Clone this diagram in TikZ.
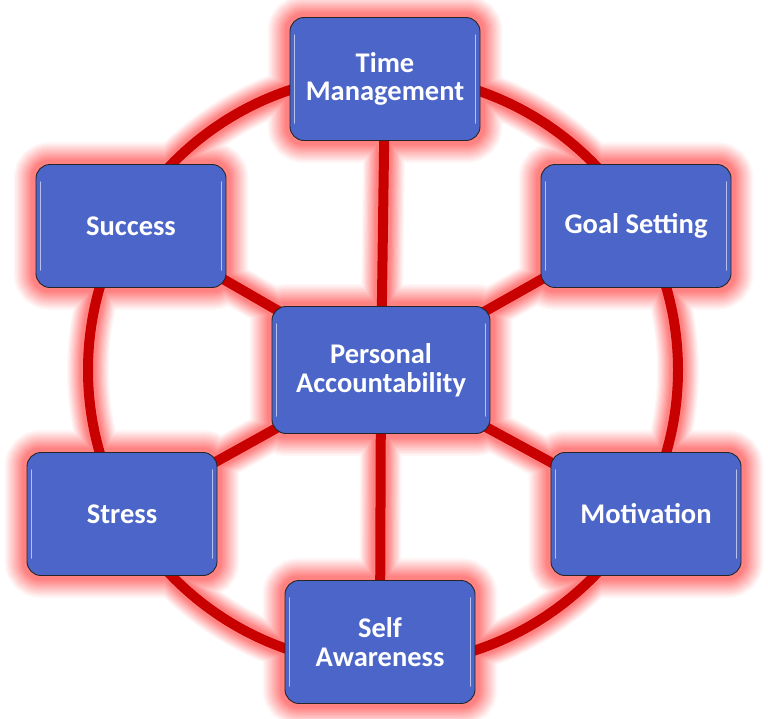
\documentclass[tikz,border=0pt]{standalone}
\usepackage{fontspec}
\setmainfont{Carlito}
\definecolor{boxblue}{RGB}{76,101,200}
\definecolor{ringred}{RGB}{200,0,0}
\pgfdeclarelayer{glow}
\pgfdeclarelayer{lines}
\pgfsetlayers{glow,lines,main}
\tikzset{
  box/.style={draw=black!85, line width=0.9pt, fill=boxblue, rounded corners=14pt,
    minimum width=190pt, minimum height=123pt, align=center, text=white,
    font=\fontsize{28.5}{28.5}\selectfont\bfseries, inner sep=0pt},
  ringline/.style={draw=ringred, line width=10pt},
  shine/.style={white, opacity=0.6, line width=1.6pt, line cap=round}
}
\begin{document}
\begin{tikzpicture}[x=1pt,y=-1pt]
\useasboundingbox (0,0) rectangle (768,718);
\node[box] (tm) at (385,79) {Time\\Management};
\node[box] (gs) at (636,226) {Goal Setting};
\node[box] (mo) at (646,514) {Motivation};
\node[box] (sa) at (380,642) {Self\\Awareness};
\node[box] (st) at (122,514) {Stress};
\node[box] (su) at (131,226) {Success};
\node[box, minimum width=218pt, minimum height=127pt] (pa) at (381,370) {Personal\\Accountability};
\coordinate (c) at (383,370);
% soft glow, built from many layers
\begin{pgfonlayer}{glow}
\foreach \i in {0,...,11}{
  \pgfmathsetmacro{\w}{42-2.4*\i}
  \pgfmathsetmacro{\bw}{44-3.2*\i}
  \pgfmathsetmacro{\p}{3+4.2*\i}
  \draw[draw=red!\p!white, line width=\w pt] (c) circle (295);
  \foreach \n in {tm,gs,mo,sa,st,su}{
    \draw[draw=red!\p!white, line width=\w pt] (pa.center) -- (\n.center);
  }
  \foreach \n in {tm,gs,mo,sa,st,su,pa}{
    \draw[draw=red!\p!white, line width=\bw pt, rounded corners=14pt] (\n.south west) rectangle (\n.north east);
  }
}
\end{pgfonlayer}
\begin{pgfonlayer}{lines}
\draw[ringline] (c) circle (295);
\foreach \n in {tm,gs,mo,sa,st,su}{
  \draw[ringline] (pa.center) -- (\n.center);
}
\end{pgfonlayer}
% glossy edge highlights
\foreach \n in {tm,gs,mo,sa,st,su,pa}{
  \draw[shine] ([shift={(5,18)}]\n.north west) -- ([shift={(5,-18)}]\n.south west);
  \draw[shine] ([shift={(-5,18)}]\n.north east) -- ([shift={(-5,-18)}]\n.south east);
}
\end{tikzpicture}
\end{document}
